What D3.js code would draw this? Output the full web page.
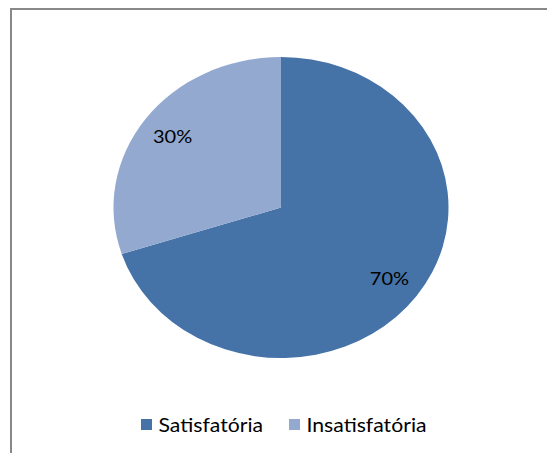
<!DOCTYPE html>
<html>
<head>
<meta charset="utf-8">
<script src="https://cdn.jsdelivr.net/npm/d3@7"></script>
<style>
  html, body { margin: 0; padding: 0; background: #fff; }
  svg { display: block; }
  text { font-family: Lato, "Open Sans", sans-serif; fill: #000; }
</style>
</head>
<body>
<svg id="chart" width="547" height="453"></svg>
<script>
// Survey result shares
const categories = ["Satisfatória", "Insatisfatória"];
const values = [70, 30];
const labels = ["70%", "30%"];
const colors = ["#4572A7", "#93A9CF"];

const svg = d3.select("#chart");
const W = 547, H = 453;

// Chart frame (extends past the right and bottom edges)
svg.append("rect")
  .attr("x", 11).attr("y", 9)
  .attr("width", W + 20).attr("height", H + 20)
  .attr("fill", "#fff")
  .attr("stroke", "#888").attr("stroke-width", 2);

// Pie is drawn as a circle then stretched horizontally
const cx = 281, cy = 207.5, ry = 150.5, rx = 167.5;
const sx = rx / ry;

const pie = d3.pie().sort(null).value(d => d);
const arcs = pie(values);
const arc = d3.arc().innerRadius(0).outerRadius(ry);
const labelArc = d3.arc().innerRadius(ry * 0.8).outerRadius(ry * 0.8);

const g = svg.append("g").attr("transform", `translate(${cx},${cy}) scale(${sx},1)`);

g.selectAll("path.slice")
  .data(arcs)
  .join("path")
  .attr("class", "slice")
  .attr("d", arc)
  .attr("fill", (d, i) => colors[i]);

g.selectAll("text.lbl")
  .data(arcs)
  .join("text")
  .attr("class", "lbl")
  .attr("transform", d => {
    const [x, y] = labelArc.centroid(d);
    return `translate(${x},${y})`;
  })
  .attr("text-anchor", "middle")
  .attr("dy", "0.36em")
  .style("font-size", "18px")
  .text((d, i) => labels[i]);

// Legend
const legendX = [141, 289];
const legend = svg.append("g");
const items = legend.selectAll("g.item")
  .data(categories)
  .join("g")
  .attr("class", "item")
  .attr("transform", (d, i) => `translate(${legendX[i]},419)`);

items.append("rect")
  .attr("width", 11).attr("height", 11)
  .attr("fill", (d, i) => colors[i]);

items.append("text")
  .attr("x", 17 / sx).attr("y", 12.5)
  .attr("transform", `scale(${sx * 1.03},1)`)
  .style("font-size", "18.5px")
  .text(d => d);
</script>
</body>
</html>
